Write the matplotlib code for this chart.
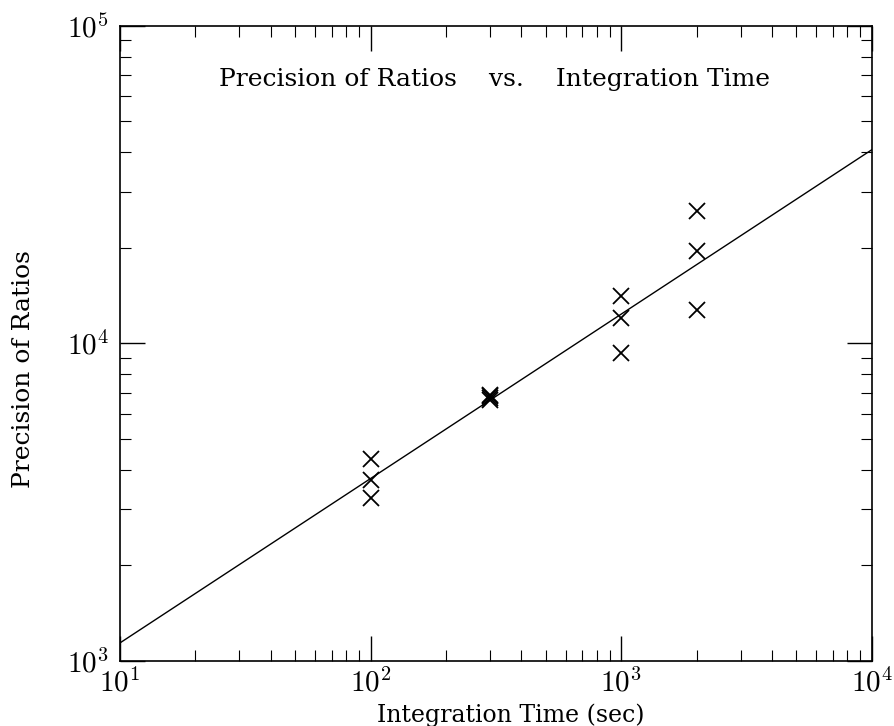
import numpy as np
import matplotlib
matplotlib.use("Agg")
import matplotlib.pyplot as plt
from matplotlib.ticker import LogLocator, NullFormatter, FuncFormatter

plt.rcParams['font.family'] = 'serif'
plt.rcParams['font.serif'] = ['DejaVu Serif']
plt.rcParams['mathtext.fontset'] = 'cm'

# measured points (integration time, precision)
t_100 = [100, 100, 100]
p_100 = [4330, 3720, 3260]
t_300 = [300, 300, 300, 300]
p_300 = [6650, 6730, 6820, 6900]
t_1000 = [1000, 1000, 1000]
p_1000 = [14100, 12030, 9330]
t_2000 = [2000, 2000, 2000]
p_2000 = [26100, 19550, 12750]

# fitted line end points
fit_t = [10, 10000]
fit_p = [1140, 40700]

times = t_100 + t_300 + t_1000 + t_2000
precs = p_100 + p_300 + p_1000 + p_2000

fig = plt.figure(figsize=(8.95, 7.26), dpi=100)
ax = fig.add_axes([0.134, 0.0895, 0.840, 0.875])

ax.plot(fit_t, fit_p, color='black', linewidth=1.0)
ax.plot(times, precs, linestyle='none', marker='x', color='black',
        markersize=12, markeredgewidth=1.3)

ax.set_xscale('log')
ax.set_yscale('log')
ax.set_xlim(10, 1e4)
ax.set_ylim(1e3, 1e5)

decade_fmt = FuncFormatter(lambda v, p: r'$10^{%d}$' % round(np.log10(v)))
for axis in (ax.xaxis, ax.yaxis):
    axis.set_major_locator(LogLocator(base=10, numticks=10))
    axis.set_minor_locator(LogLocator(base=10, subs=np.arange(2, 10), numticks=10))
    axis.set_major_formatter(decade_fmt)
    axis.set_minor_formatter(NullFormatter())

ax.tick_params(which='both', direction='in', top=True, right=True)
ax.tick_params(which='major', length=18, width=1.0, labelsize=21, pad=8)
ax.tick_params(axis='x', which='major', pad=5)
ax.tick_params(which='minor', length=8, width=0.8)

ax.set_xlabel('Integration Time (sec)', fontsize=17)
ax.set_ylabel('Precision of Ratios', fontsize=18)
ax.xaxis.set_label_coords(0.52, -0.067)
ax.yaxis.set_label_coords(-0.113, 0.46)

ax.text(0.498, 0.915, 'Precision of Ratios    vs.    Integration Time',
        transform=ax.transAxes, ha='center', va='center', fontsize=18)

for s in ax.spines.values():
    s.set_linewidth(1.2)

fig.savefig('out.png', dpi=100)
